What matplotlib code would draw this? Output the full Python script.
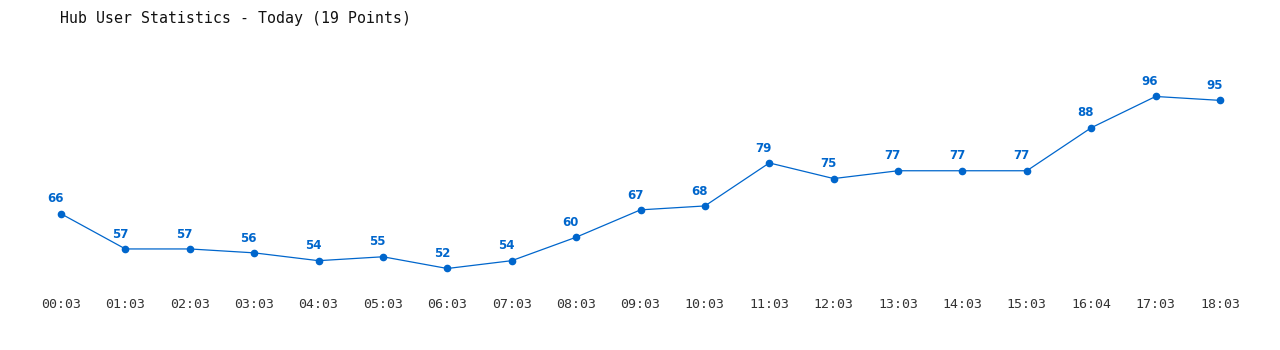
import matplotlib
matplotlib.use("Agg")
import matplotlib.pyplot as plt

# Данные графика
times = ["00:03", "01:03", "02:03", "03:03", "04:03", "05:03", "06:03", "07:03", "08:03", "09:03",
         "10:03", "11:03", "12:03", "13:03", "14:03", "15:03", "16:04", "17:03", "18:03"]
users = [66, 57, 57, 56, 54, 55, 52, 54, 60, 67, 68, 79, 75, 77, 77, 77, 88, 96, 95]

color = "#0066cc"

fig = plt.figure(figsize=(12.8, 3.5), dpi=100)
ax = fig.add_axes([0, 60 / 350, 1, 260 / 350])
x = list(range(len(users)))
ax.plot(x, users, color=color, linewidth=0.9, marker="o", markersize=4.5)
for xi, v in zip(x, users):
    ax.annotate(str(v), (xi, v), xytext=(-4, 6), textcoords="offset points",
                ha="center", va="bottom", fontsize=8.5, fontweight="bold",
                color=color, family="DejaVu Sans")

ax.set_xlim(-61 / 64.39, (1280 - 61) / 64.39)
ax.set_ylim(46.5, 113.0)
ax.set_xticks(x)
ax.set_xticklabels(times, family="DejaVu Sans Mono", fontsize=9.5, color="#333333")
ax.tick_params(axis="x", length=0, pad=6)
ax.set_yticks([])
for s in ax.spines.values():
    s.set_visible(False)

fig.text(60 / 1280, 1 - 18 / 350, "Hub User Statistics - Today (19 Points)",
         family="DejaVu Sans Mono", fontsize=10.7, va="center", ha="left", color="#111111")

fig.savefig("out.png", dpi=100)
